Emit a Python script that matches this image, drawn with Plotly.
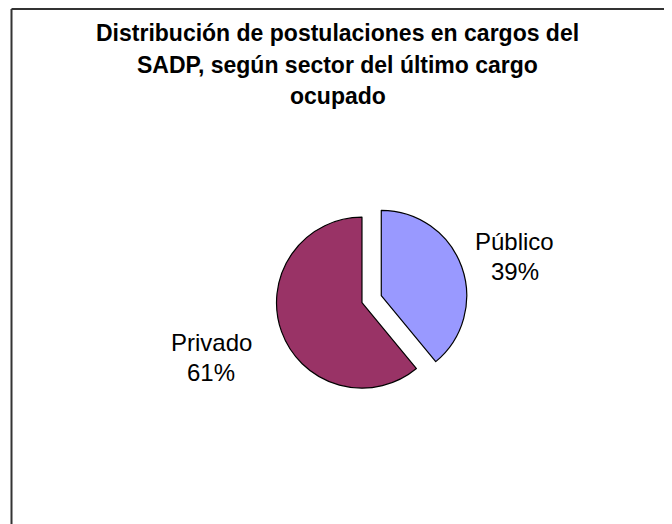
import plotly.graph_objects as go

labels = ["Público", "Privado"]
values = [39, 61]
colors = ["#9999FF", "#993366"]
pulls = [0.24, 0]
title_lines = [
    "Distribución de postulaciones en cargos del",
    "SADP, según sector del último cargo",
    "ocupado",
]

# figure size (page body has an 8px default margin)
W, H = 664, 516
FONT = "Liberation Sans, Arial, sans-serif"

fig = go.Figure()
fig.add_trace(go.Pie(
    labels=labels,
    values=values,
    sort=False,
    direction="clockwise",
    rotation=0,
    pull=pulls,
    marker=dict(colors=colors, line=dict(color="#000000", width=1.2)),
    textinfo="none",
    showlegend=False,
    domain=dict(x=[0.3735, 0.6927], y=[0.2235, 0.6343]),
    hoverinfo="label+percent",
))

# outside data labels (label + percent), placed like the original
total = sum(values)
label_pos = {"Público": (506.5, 233, 263), "Privado": (203, 334, 364)}
for lab, val in zip(labels, values):
    px, y1, y2 = label_pos[lab]
    pct = f"{round(val / total * 100)}%"
    for txt, yy in ((lab, y1), (pct, y2)):
        fig.add_annotation(
            text=txt, x=px / W, y=1 - yy / H, xref="paper", yref="paper",
            xanchor="center", yanchor="middle", showarrow=False,
            font=dict(family=FONT, size=24, color="#000000"),
        )

title_y = [25, 57, 88]
for line, yp in zip(title_lines, title_y):
    fig.add_annotation(
        text="<b>" + line + "</b>",
        x=329.5 / W, y=1 - yp / H, xref="paper", yref="paper",
        xanchor="center", yanchor="middle", showarrow=False,
        font=dict(family=FONT, size=23, color="#000000"),
    )

# chart area frame (left and top edges visible)
fig.add_shape(type="line", xref="paper", yref="paper",
              x0=3.5 / W, x1=1.02, y0=1 - 1 / H, y1=1 - 1 / H,
              line=dict(color="#333333", width=2))
fig.add_shape(type="line", xref="paper", yref="paper",
              x0=3.5 / W, x1=3.5 / W, y0=-0.02, y1=1 - 1 / H,
              line=dict(color="#333333", width=2))

fig.update_layout(
    width=W, height=H,
    margin=dict(l=0, r=0, t=0, b=0),
    paper_bgcolor="#FFFFFF",
    plot_bgcolor="#FFFFFF",
)

fig.write_html("out.html")
